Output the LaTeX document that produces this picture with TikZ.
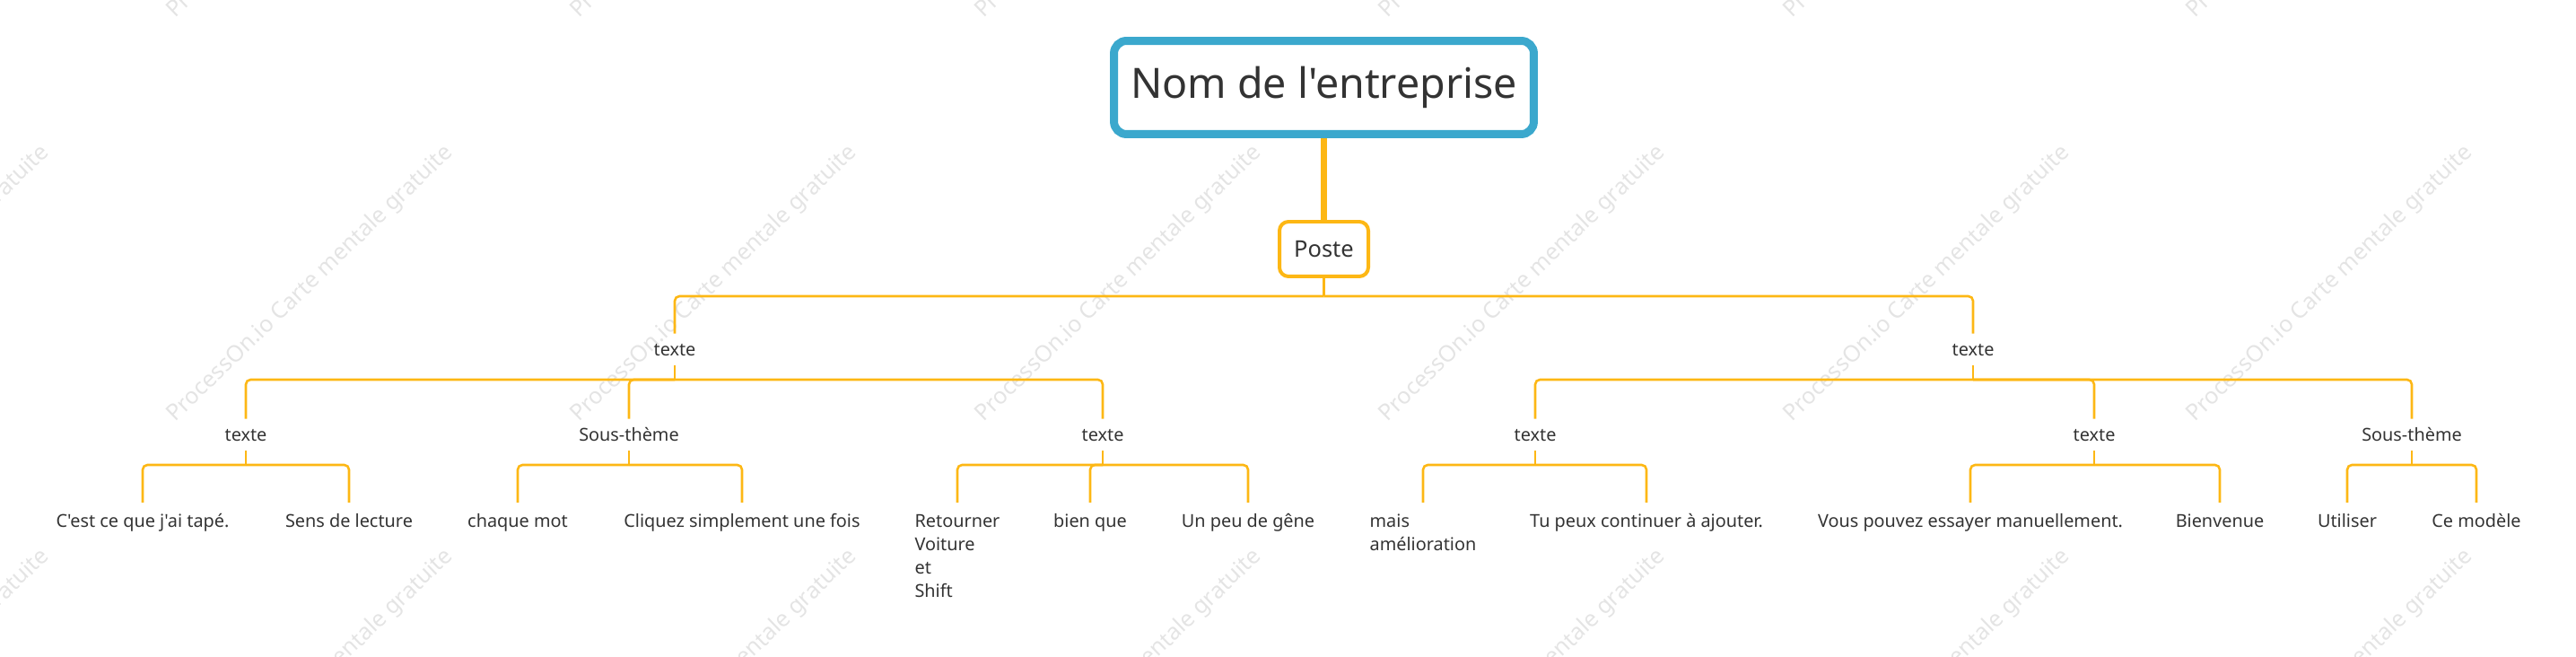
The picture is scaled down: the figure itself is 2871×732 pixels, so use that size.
\documentclass[tikz,border=0pt]{standalone}
\usepackage{fontspec}
\setmainfont{Noto Sans}[Ligatures=TeXOff]
\definecolor{orangeline}{HTML}{FDB714}
\definecolor{bluebox}{HTML}{3BA8CD}
\definecolor{textgray}{HTML}{333333}
\definecolor{wmgray}{HTML}{E4E4E4}
\newcommand{\lstrut}{\rule{0pt}{0.54cm}}
\begin{document}
\begin{tikzpicture}[x=0.02cm, y=-0.02cm,
  rootbox/.style={draw=bluebox, line width=0.18cm, rounded corners=0.28cm, fill=white,
    minimum width=9.36cm, minimum height=2.08cm, inner sep=0pt, text=textgray,
    font=\fontsize{26.5}{30}\selectfont},
  postebox/.style={draw=orangeline, line width=0.08cm, rounded corners=0.2cm, fill=white,
    minimum width=1.98cm, minimum height=1.22cm, inner sep=0pt, text=textgray,
    font=\fontsize{14.5}{17}\selectfont},
  topic/.style={anchor=base, inner sep=0pt, text=textgray,
    font=\fontsize{11.3}{14.8}\selectfont,
    execute at begin node={\rule[-0.2cm]{0pt}{0.7cm}}},
  leaf/.style={anchor=north, inner sep=0pt, align=left, text=textgray,
    font=\fontsize{11.3}{14.8}\selectfont},
  link/.style={draw=orangeline, line width=0.052cm, rounded corners=3pt},
  wmark/.style={anchor=base west, rotate=44, text=wmgray,
    font=\fontsize{14.4}{17}\selectfont}]
\useasboundingbox (0,0) rectangle (2871,732);
\clip (0,0) rectangle (2871,732);
% watermark
\foreach \x in {-259,191,641,1092,1542,1993,2442}
  \foreach \y in {25,475,925}
    \node[wmark] at (\x,\y) {ProcessOn.io Carte mentale gratuite};
% central topic
\node[rootbox] (root) at (1475.5,97.5) {Nom de l'entreprise};
\node[postebox] (poste) at (1475.5,277.5) {Poste};
\draw[orangeline, line width=0.15cm] (root) -- (poste);
% main branches
\node[topic] (ta) at (752,397) {texte};
\node[topic] (tb) at (2199,397) {texte};
% sub-topics
\node[topic] (taa) at (274,492) {texte};
\node[topic] (tab) at (701,492) {Sous-thème};
\node[topic] (tac) at (1229,492) {texte};
\node[topic] (tba) at (1711,492) {texte};
\node[topic] (tbb) at (2334,492) {texte};
\node[topic] (tbc) at (2688,492) {Sous-thème};
% leaves
\node[leaf] (l1) at (159,560) {\lstrut C'est ce que j'ai tapé.};
\node[leaf] (l2) at (389,560) {\lstrut Sens de lecture};
\node[leaf] (l3) at (577,560) {\lstrut chaque mot};
\node[leaf] (l4) at (827,560) {\lstrut Cliquez simplement une fois};
\node[leaf] (l5) at (1067,560) {\lstrut Retourner\\Voiture\\et\\Shift};
\node[leaf] (l6) at (1215,560) {\lstrut bien que};
\node[leaf] (l7) at (1391,560) {\lstrut Un peu de gêne};
\node[leaf] (l8) at (1586,560) {\lstrut mais\\amélioration};
\node[leaf] (l9) at (1835,560) {\lstrut Tu peux continuer à ajouter.};
\node[leaf] (l10) at (2196,560) {\lstrut Vous pouvez essayer manuellement.};
\node[leaf] (l11) at (2474,560) {\lstrut Bienvenue};
\node[leaf] (l12) at (2616,560) {\lstrut Utiliser};
\node[leaf] (l13) at (2760,560) {\lstrut Ce modèle};
% bus points
\coordinate (b0) at (1475.5,330);
\coordinate (ba) at (752,423);
\coordinate (bb) at (2199,423);
\coordinate (baa) at (274,518);
\coordinate (bab) at (701,518);
\coordinate (bac) at (1229,518);
\coordinate (bba) at (1711,518);
\coordinate (bbb) at (2334,518);
\coordinate (bbc) at (2688,518);
% connectors
\draw[link] (poste) -- (b0);
\foreach \p/\b in {ta/ba,tb/bb,taa/baa,tab/bab,tac/bac,tba/bba,tbb/bbb,tbc/bbc}
  \draw[link] (\p.south) -- (\b);
\foreach \b/\c in {b0/ta,b0/tb,ba/taa,ba/tab,ba/tac,bb/tba,bb/tbb,bb/tbc,
    baa/l1,baa/l2,bab/l3,bab/l4,bac/l5,bac/l6,bac/l7,bba/l8,bba/l9,
    bbb/l10,bbb/l11,bbc/l12,bbc/l13}
  \draw[link] (\b) -| (\c.north);
\end{tikzpicture}
\end{document}
